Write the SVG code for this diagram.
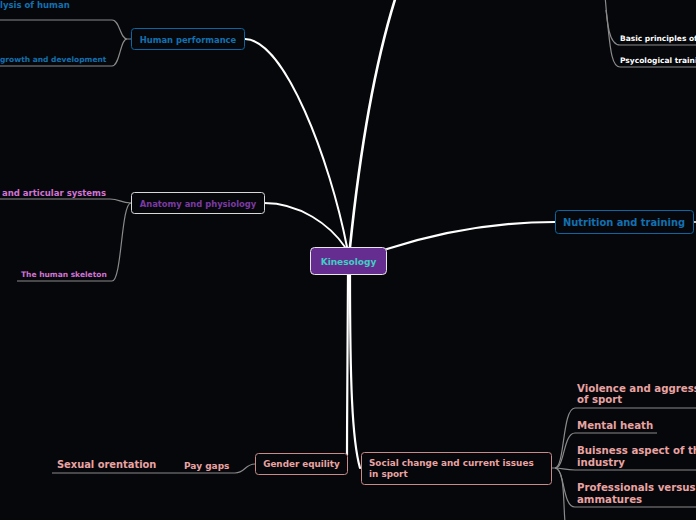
<svg xmlns="http://www.w3.org/2000/svg" width="696" height="520" viewBox="0 0 696 520">
<style>
text{font-family:"DejaVu Sans","Liberation Sans",sans-serif;font-weight:bold}
.box{fill:#06070a;stroke-width:1}
.main{fill:none;stroke:#ffffff;stroke-linecap:round}
.sub{fill:none;stroke:#8a8a8a;stroke-width:1.2}
.blue{fill:#1370b0}
.pink{fill:#e8a3a3}
.mag{fill:#d273d6}
.wht{fill:#ffffff}
.leaf{font-size:10.2px}
</style>
<rect width="696" height="520" fill="#06070a"/>
<g id="connectors">
<path class="main" stroke-width="2" d="M245,39 C285,40 330,160 347,247"/>
<path class="main" stroke-width="2.6" d="M350,247 C360,150 375,60 398,-10"/>
<path class="main" stroke-width="1.8" d="M264,203 C300,203 330,225 345,247"/>
<path class="main" stroke-width="2.2" d="M387,249 C440,232 500,222 555,222"/>
<path class="main" stroke-width="1.5" d="M693,222 L696,222"/>
<path class="main" stroke-width="2.2" d="M348,274 C348,350 347,400 347,455"/>
<path class="main" stroke-width="2.2" d="M350,274 C350,380 352,440 360,468"/>
<path class="sub" d="M131,39 L127,39 C120,39 120,20 112,20 L0,20"/>
<path class="sub" d="M127,39 C120,39 120,66 112,66 L0,66"/>
<path class="sub" d="M131,203 C120,203 120,199 110,199 L0,199"/>
<path class="sub" d="M131,203 C121,203 122,281 112,281 L17,281"/>
<path class="sub" d="M605,-5 C607,20 608,45 620,45 L696,45"/>
<path class="sub" d="M606,10 C610,40 610,67 620,67 L696,67"/>
<path class="sub" d="M255,464 C245,464 245,473 235,473 L52,473"/>
<path class="sub" d="M552,468 L555,468 C565,468 562,408 575,408 L696,408"/>
<path class="sub" d="M555,468 C565,468 563,433 575,433 L657,433"/>
<path class="sub" d="M555,468 C562,468 565,470 575,470 L696,470"/>
<path class="sub" d="M555,468 C565,468 562,507 575,507 L696,507"/>
<path class="sub" d="M555,468 C565,470 563,500 565,522"/>
</g>
<g id="kinesology">
<rect x="310.5" y="247.5" width="76" height="27" rx="4" fill="#662d91" stroke="#e6e6e6"/>
<text x="348.5" y="265" font-size="9" text-anchor="middle" fill="#3fcfc4">Kinesology</text>
</g>
<g id="human-performance">
<rect class="box" x="131.5" y="28.5" width="113" height="21" rx="3" stroke="#0d66a3"/>
<text class="blue" x="188" y="42.5" font-size="8.4" text-anchor="middle">Human performance</text>
</g>
<g id="hp-analysis"><text class="blue" x="0" y="7.5" font-size="8.5">lysis of human</text></g>
<g id="hp-growth"><text class="blue" x="0" y="62" font-size="7.5">growth and development</text></g>
<g id="anatomy">
<rect class="box" x="131.5" y="192.5" width="133" height="21" rx="3" stroke="#d8d8d8"/>
<text x="198" y="206.5" font-size="8.4" text-anchor="middle" fill="#7a3aa3">Anatomy and physiology</text>
</g>
<g id="an-articular"><text class="mag" x="2" y="195.5" font-size="8.5">and articular systems</text></g>
<g id="an-skeleton"><text class="mag" x="21" y="277" font-size="7.5">The human skeleton</text></g>
<g id="nutrition">
<rect class="box" x="555.5" y="210.5" width="138" height="23" rx="3" stroke="#0d66a3"/>
<text class="blue" x="624" y="225.8" font-size="9.9" text-anchor="middle">Nutrition and training</text>
</g>
<g id="nt-basic"><text class="wht" x="620" y="41" font-size="7.5">Basic principles of</text></g>
<g id="nt-psych"><text class="wht" x="620" y="63" font-size="7.5">Psycological traini</text></g>
<g id="gender">
<rect class="box" x="255.5" y="453.5" width="92" height="21" rx="3" stroke="#c98a8a"/>
<text class="pink" x="301.5" y="467.3" font-size="8.8" text-anchor="middle">Gender equility</text>
</g>
<g id="pay-gaps"><text class="pink" x="184" y="468.5" font-size="9">Pay gaps</text></g>
<g id="sexual"><text class="pink" x="57" y="467.8" font-size="9.9">Sexual orentation</text></g>
<g id="social">
<rect class="box" x="361.5" y="452.5" width="190" height="32" rx="3" stroke="#c98a8a"/>
<text class="pink" x="369" y="466" font-size="8.85">Social change and current issues</text>
<text class="pink" x="369" y="477" font-size="8.85">in sport</text>
</g>
<g id="violence"><text class="pink leaf" x="577" y="391.8">Violence and aggressio</text><text class="pink leaf" x="577" y="403">of sport</text></g>
<g id="mental"><text class="pink leaf" x="577" y="428.8">Mental heath</text></g>
<g id="business"><text class="pink leaf" x="577" y="453.8">Buisness aspect of th</text><text class="pink leaf" x="577" y="466">industry</text></g>
<g id="professionals"><text class="pink leaf" x="577" y="490.8">Professionals versus</text><text class="pink leaf" x="577" y="503">ammatures</text></g>
</svg>
